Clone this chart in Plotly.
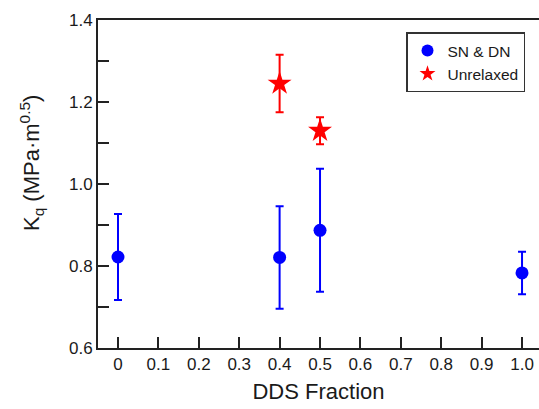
import plotly.graph_objects as go

# DDS fraction vs. fracture toughness
dds_sn = [0.0, 0.4, 0.5, 1.0]
kq_sn = [0.822, 0.821, 0.887, 0.783]
err_sn = [0.105, 0.125, 0.150, 0.052]

dds_un = [0.4, 0.5]
kq_un = [1.245, 1.130]
err_un = [0.070, 0.033]

x_ticks = [0, 0.1, 0.2, 0.3, 0.4, 0.5, 0.6, 0.7, 0.8, 0.9, 1.0]
x_labels = ["0", "0.1", "0.2", "0.3", "0.4", "0.5", "0.6", "0.7", "0.8", "0.9", "1.0"]
y_ticks = [0.6, 0.8, 1.0, 1.2, 1.4]
y_labels = ["0.6", "0.8", "1.0", "1.2", "1.4"]

font = "Liberation Sans, Arial, sans-serif"

fig = go.Figure()
fig.add_trace(go.Scatter(
    x=dds_sn, y=kq_sn, mode="markers", name="SN & DN",
    marker=dict(symbol="circle", size=13, color="#0000ff"),
    error_y=dict(type="data", array=err_sn, color="#0000ff", thickness=2, width=4),
))
fig.add_trace(go.Scatter(
    x=dds_un, y=kq_un, mode="markers", name="Unrelaxed",
    marker=dict(symbol="star", size=18, color="#ff0000"),
    error_y=dict(type="data", array=err_un, color="#ff0000", thickness=2, width=4),
))

fig.update_layout(
    width=539, height=409,
    margin=dict(l=98, r=0, t=20, b=61),
    paper_bgcolor="white", plot_bgcolor="white",
    font=dict(family=font, size=17, color="#1a1a1a"),
    showlegend=True,
    legend=dict(
        x=(406 - 98) / 441, y=0.962, xanchor="left", yanchor="top",
        bordercolor="#333", borderwidth=1.5, bgcolor="white",
        font=dict(size=15.5, color="#1a1a1a"),
        itemsizing="constant", tracegroupgap=0, itemwidth=30,
        entrywidth=118, entrywidthmode="pixels",
    ),
    xaxis=dict(
        range=[-0.0495, 1.042], tickvals=x_ticks, ticktext=x_labels,
        ticks="inside", ticklen=11, tickwidth=1.5, tickcolor="#222",
        showline=True, linewidth=2, linecolor="#222", mirror=True,
        showgrid=False, zeroline=False,
        tickfont=dict(size=17),
        title=dict(text="DDS Fraction", font=dict(size=22), standoff=10),
    ),
    yaxis=dict(
        range=[0.6, 1.4], tickvals=y_ticks, ticktext=y_labels,
        ticks="inside", ticklen=11, tickwidth=1.5, tickcolor="#222",
        minor=dict(ticks="inside", ticklen=11, dtick=0.1, tickwidth=1.5, tickcolor="#222", showgrid=False),
        showline=True, linewidth=2, linecolor="#222",
        showgrid=False, zeroline=False,
        tickfont=dict(size=17),
    ),
    annotations=[dict(
        text="K<sub>q</sub> (MPa·m<sup>0.5</sup>)",
        textangle=-90, showarrow=False,
        xref="paper", yref="paper",
        x=(31 - 98) / 441, y=(348 - 163) / 328,
        xanchor="center", yanchor="middle",
        font=dict(size=22, color="#1a1a1a"),
    )],
)

fig.write_html("out.html")
